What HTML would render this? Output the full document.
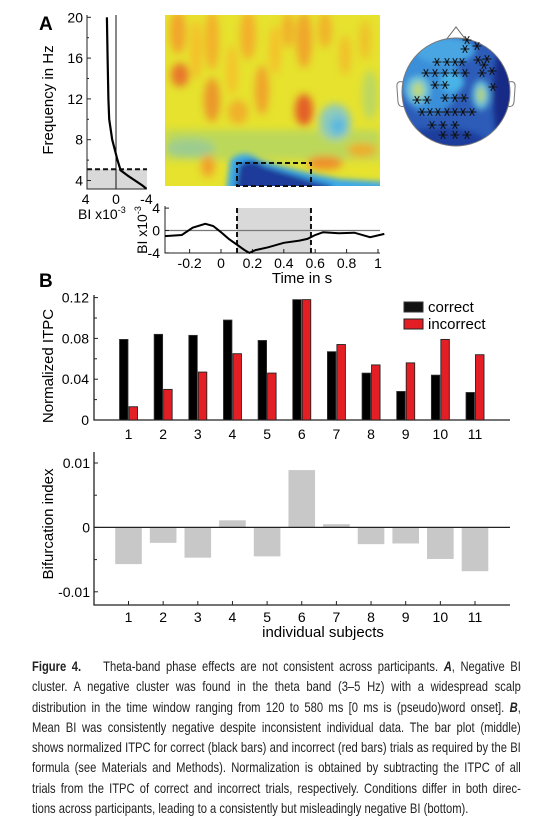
<!DOCTYPE html>
<html><head><meta charset="utf-8">
<style>
html,body{margin:0;padding:0;background:#fff;}
body{width:534px;height:830px;position:relative;overflow:hidden;font-family:"Liberation Sans",sans-serif;}
svg{position:absolute;left:0;top:0;}
#caption{position:absolute;left:32px;top:656px;width:611px;transform:scaleX(0.8);transform-origin:0 0;font-family:"Liberation Sans",sans-serif;font-size:14px;line-height:20.3px;color:#222;}
#caption div{text-align:justify;text-align-last:justify;white-space:nowrap;}
#caption div.last{text-align-last:left;}
</style></head>
<body>
<svg id="fig" width="534" height="650" viewBox="0 0 534 650" font-family="Liberation Sans, sans-serif">
<defs>
  <filter id="blur" x="-20%" y="-20%" width="140%" height="140%"><feGaussianBlur stdDeviation="4"/></filter>
  <filter id="blur2" x="-20%" y="-20%" width="140%" height="140%"><feGaussianBlur stdDeviation="3"/></filter>
  <clipPath id="hmclip"><rect x="165" y="15" width="215" height="171"/></clipPath>
  <clipPath id="headclip"><circle cx="456" cy="92" r="54"/></clipPath>
</defs>

<text x="39" y="30" font-size="19" font-weight="bold">A</text>
<text x="39" y="287" font-size="19" font-weight="bold">B</text>

<g id="freqPlot"></g>

<g clip-path="url(#hmclip)">
  <rect x="165" y="15" width="215" height="171" fill="#e6e22e"/>
  <g filter="url(#blur)">
    <rect x="165" y="130" width="215" height="30" fill="#bcd85a"/>
    <ellipse cx="178" cy="32" rx="8" ry="22" fill="#f2a52a"/>
    <ellipse cx="196" cy="50" rx="6" ry="30" fill="#f4c02a"/>
    <ellipse cx="212" cy="40" rx="7" ry="30" fill="#f3b02a"/>
    <ellipse cx="180" cy="75" rx="9" ry="12" fill="#e8782a"/>
    <ellipse cx="212" cy="100" rx="8" ry="22" fill="#eb962a"/>
    <ellipse cx="232" cy="70" rx="6" ry="25" fill="#f4c42a"/>
    <ellipse cx="248" cy="35" rx="8" ry="25" fill="#f3b02a"/>
    <ellipse cx="262" cy="90" rx="7" ry="25" fill="#f0a42a"/>
    <ellipse cx="275" cy="50" rx="6" ry="25" fill="#f4c22a"/>
    <ellipse cx="288" cy="30" rx="6" ry="18" fill="#f1b02a"/>
    <ellipse cx="304" cy="40" rx="8" ry="28" fill="#f0a62a"/>
    <ellipse cx="304" cy="110" rx="9" ry="16" fill="#e45e28"/>
    <ellipse cx="325" cy="30" rx="7" ry="18" fill="#f0b42a"/>
    <ellipse cx="345" cy="55" rx="6" ry="20" fill="#f1c02a"/>
    <ellipse cx="365" cy="40" rx="6" ry="20" fill="#eec22a"/>
    <ellipse cx="238" cy="112" rx="10" ry="12" fill="#f0b02a"/>
    <ellipse cx="335" cy="122" rx="16" ry="18" fill="#8ccabc"/>
    <ellipse cx="338" cy="126" rx="8" ry="9" fill="#5ab8e0"/>
    <ellipse cx="190" cy="148" rx="25" ry="9" fill="#9ccc90"/>
    <ellipse cx="208" cy="166" rx="7" ry="11" fill="#f2a02a"/>
    <ellipse cx="325" cy="163" rx="18" ry="7" fill="#ee902a"/>
    <ellipse cx="362" cy="150" rx="15" ry="7" fill="#ecae2a"/>
    <ellipse cx="370" cy="95" rx="8" ry="25" fill="#bcd860"/>
  </g>
  <g filter="url(#blur2)">
    <path d="M226,192 L230,160 Q244,148 260,160 Q300,172 340,179 L385,182 L385,194 Z" fill="#3aa8e8"/>
    <path d="M235,192 L239,165 Q252,156 264,166 Q300,177 332,186 L332,194 Z" fill="#1a3a9a"/>
  </g>
</g>
<rect x="237" y="163" width="74" height="23" fill="none" stroke="#111" stroke-width="2" stroke-dasharray="5,3"/>

<g id="timePlot"></g>

<g>
  <path d="M446,40 L456,27 L466,40" fill="#fff" stroke="#666" stroke-width="1"/>
  <path d="M403,82 Q396,80 397,88 L398,102 Q399,108 405,106" fill="#fff" stroke="#777" stroke-width="1"/>
  <path d="M509,82 Q516,80 515,88 L514,102 Q513,108 507,106" fill="#fff" stroke="#777" stroke-width="1"/>
  <circle cx="456" cy="92" r="54" fill="#2c5cb8"/>
  <g clip-path="url(#headclip)">
    <g filter="url(#blur2)">
      <ellipse cx="430" cy="80" rx="30" ry="34" fill="#3a8ed8"/>
      <ellipse cx="445" cy="50" rx="30" ry="14" fill="#48a6e2"/>
      <ellipse cx="452" cy="82" rx="12" ry="10" fill="#4ab2e6"/>
      <ellipse cx="418" cy="90" rx="12" ry="14" fill="#6ec2d8"/>
      <ellipse cx="418" cy="90" rx="6" ry="8" fill="#b8d880"/>
      <ellipse cx="481" cy="95" rx="9" ry="15" fill="#62b8d8"/>
      <ellipse cx="481" cy="95" rx="4" ry="8" fill="#b0d480"/>
      <ellipse cx="505" cy="95" rx="12" ry="55" fill="#182c86"/>
      <ellipse cx="440" cy="142" rx="45" ry="14" fill="#1e3e9c"/>
    </g>
  </g>
  <circle cx="456" cy="92" r="54" fill="none" stroke="#777" stroke-width="1"/>
  <g id="stars" stroke="#111" stroke-width="1"></g>
</g>

<g id="itpcChart"></g>
<g id="biChart"></g>
</svg>

<div id="caption">
<div><b>Figure 4.</b>&nbsp;&nbsp;&nbsp; Theta-band phase effects are not consistent across participants. <b><i>A</i></b>, Negative BI</div>
<div>cluster. A negative cluster was found in the theta band (3–5 Hz) with a widespread scalp</div>
<div>distribution in the time window ranging from 120 to 580 ms [0 ms is (pseudo)word onset]. <b><i>B</i></b>,</div>
<div>Mean BI was consistently negative despite inconsistent individual data. The bar plot (middle)</div>
<div>shows normalized ITPC for correct (black bars) and incorrect (red bars) trials as required by the BI</div>
<div>formula (see Materials and Methods). Normalization is obtained by subtracting the ITPC of all</div>
<div>trials from the ITPC of correct and incorrect trials, respectively. Conditions differ in both direc-</div>
<div class="last">tions across participants, leading to a consistently but misleadingly negative BI (bottom).</div>
</div>

<script>
// ---- data ----
const subjects = ["1","2","3","4","5","6","7","8","9","10","11"];
const itpcCorrect = [0.079,0.084,0.083,0.098,0.078,0.118,0.067,0.046,0.028,0.044,0.027];
const itpcIncorrect = [0.013,0.030,0.047,0.065,0.046,0.118,0.074,0.054,0.056,0.079,0.064];
const itpcTicks = [0,0.04,0.08,0.12];
const itpcTickLabels = ["0","0.04","0.08","0.12"];
const biValues = [-0.0057,-0.0024,-0.0047,0.0011,-0.0045,0.0089,0.0005,-0.0026,-0.0025,-0.0049,-0.0068];
const biTicks = [-0.01,0,0.01];
const biTickLabels = ["-0.01","0","0.01"];
const freqTicks = [4,8,12,16,20];
const freqProfileF = [20,16,12,10,8,6,5,4.5,4,3.5,3.2];
const freqProfileBI = [1.2,1.1,1.0,0.9,0.5,-0.2,-0.6,-1.5,-2.5,-3.5,-4];
const timeTicks = [-0.2,0,0.2,0.4,0.6,0.8,1];
const timeTickLabels = ["-0.2","0","0.2","0.4","0.6","0.8","1"];
const timeT = [-0.357,-0.25,-0.18,-0.1,-0.05,0,0.05,0.1,0.15,0.18,0.22,0.3,0.4,0.5,0.55,0.6,0.65,0.75,0.85,0.95,1.04];
const timeBI = [-1,-0.8,0.5,1.2,0.8,-0.3,-1.5,-2.5,-3.5,-4,-3.5,-3,-2.2,-1.8,-1.5,-0.8,-0.3,-0.5,-0.4,-1.2,-0.6];
const starPts = [[467,40],[465,49],[477,46],[478,60],[487,59],[484,65],[482,73],[492,71],[493,87],[437,62],[447,62],[455,62],[462,62],[426,73],[435,73],[445,73],[455,73],[465,73],[435,85],[445,85],[417,100],[427,100],[445,98],[455,98],[464,98],[422,112],[430,112],[438,112],[447,112],[455,112],[463,112],[472,112],[432,125],[443,125],[455,125],[443,135],[455,135],[467,135]];

const NS = "http://www.w3.org/2000/svg";
function mk(parent, tag, attrs, text){
  const e = document.createElementNS(NS, tag);
  for (const k in attrs) e.setAttribute(k, attrs[k]);
  if (text !== undefined) e.textContent = text;
  parent.appendChild(e);
  return e;
}

(function(){
  const g = document.getElementById('freqPlot');
  const fy = f => 17.3 + (20 - f) * 10.2;
  const bx = b => 116 - b * 7.6;
  let r = mk(g,'rect',{x:87,y:fy(5.1),width:60,height:189-fy(5.1),fill:'#d9d9d9'});
   
  let l = mk(g,'line',{x1:87,y1:fy(5.1),x2:147,y2:fy(5.1),stroke:'#111','stroke-width':2,'stroke-dasharray':'5,3'});
   
  mk(g,'line',{x1:bx(0),y1:15,x2:bx(0),y2:189,stroke:'#111','stroke-width':1});
  let ax = mk(g,'path',{d:'M87,15 L87,189 L147,189',fill:'none',stroke:'#222','stroke-width':1});
   
  freqTicks.forEach(f=>{
    mk(g,'line',{x1:87,y1:fy(f),x2:91,y2:fy(f),stroke:'#222'});
    const t = mk(g,'text',{x:83,y:fy(f)+5,'font-size':14,'text-anchor':'end'},String(f));
     
  });
  [6,10,14,18].forEach(f=>mk(g,'line',{x1:87,y1:fy(f),x2:89,y2:fy(f),stroke:'#222'}));
  [[4,'4'],[0,'0'],[-4,'-4']].forEach(([b,s])=>{
    const t = mk(g,'text',{x:bx(b),y:204,'font-size':14,'text-anchor':'middle'},s);
     
  });
  const bl = mk(g,'text',{x:78,y:219,'font-size':14},'BI x10');
   
  mk(bl,'tspan',{'font-size':9,dy:-6},'-3');
  const yl = mk(g,'text',{x:0,y:0,'font-size':15,'text-anchor':'middle',transform:'translate(53,100) rotate(-90)'},'Frequency in Hz');
   
  const d = freqProfileF.map((f,i)=>(i?'L':'M')+bx(freqProfileBI[i]).toFixed(1)+','+fy(f).toFixed(1)).join(' ');
  const p = mk(g,'path',{d:d,fill:'none',stroke:'#000','stroke-width':2.2});
   
})();

(function(){
  const g = document.getElementById('timePlot');
  const tx = t => 221 + t * 157;
  const by = b => 230.5 - b * 5.6;
  let r = mk(g,'rect',{x:tx(0.102),y:208,width:tx(0.573)-tx(0.102),height:45,fill:'#d9d9d9'});
   
  [0.102,0.573].forEach(t=>mk(g,'line',{x1:tx(t),y1:208,x2:tx(t),y2:253,stroke:'#111','stroke-width':2,'stroke-dasharray':'5,3'}));
  mk(g,'line',{x1:165,y1:by(0),x2:380,y2:by(0),stroke:'#777','stroke-width':1.2});
  let ax = mk(g,'path',{d:'M165,206 L165,253 L380,253',fill:'none',stroke:'#222'});
   
  [[4,'4'],[0,'0'],[-4,'-4']].forEach(([b,s])=>{
    mk(g,'line',{x1:165,y1:by(b),x2:169,y2:by(b),stroke:'#222'});
    const t = mk(g,'text',{x:160,y:by(b)+5,'font-size':14,'text-anchor':'end'},s);
     
  });
  timeTicks.forEach((t,i)=>{
    mk(g,'line',{x1:tx(t),y1:253,x2:tx(t),y2:249,stroke:'#222'});
    const e = mk(g,'text',{x:tx(t),y:268,'font-size':14,'text-anchor':'middle'},timeTickLabels[i]);
     
  });
  const xt = mk(g,'text',{x:302,y:283,'font-size':15,'text-anchor':'middle'},'Time in s');
   
  const yt = mk(g,'text',{x:0,y:0,'font-size':14,'text-anchor':'middle',transform:'translate(147,230) rotate(-90)'},'BI x10');
   
  mk(yt,'tspan',{'font-size':9,dy:-6},'-3');
  const d = timeT.map((t,i)=>(i?'L':'M')+tx(t).toFixed(1)+','+by(timeBI[i]).toFixed(1)).join(' ');
  const p = mk(g,'path',{d:d,fill:'none',stroke:'#000','stroke-width':2});
   
})();

(function(){
  const g = document.getElementById('stars');
  const R = 4.5;
  starPts.forEach(([x,y])=>{
    const d = `M${x-R},${y}L${x+R},${y}M${x-R*0.5},${y-R*0.87}L${x+R*0.5},${y+R*0.87}M${x-R*0.5},${y+R*0.87}L${x+R*0.5},${y-R*0.87}`;
    const s = mk(g,'path',{d:d});
     
  });
})();

(function(){
  const g = document.getElementById('itpcChart');
  const cx = i => 128.5 + i * 34.65;
  const vy = v => 420 - v * 1020;
  let ax = mk(g,'path',{d:'M94,295 L94,420 L510,420',fill:'none',stroke:'#222','stroke-width':1.3});
   
  [0.02,0.06,0.1].forEach(v=>mk(g,'line',{x1:94,y1:vy(v),x2:97,y2:vy(v),stroke:'#222'}));
  itpcTicks.forEach((v,i)=>{
    mk(g,'line',{x1:94,y1:vy(v),x2:98,y2:vy(v),stroke:'#222'});
    const t = mk(g,'text',{x:89,y:vy(v)+5,'font-size':14,'text-anchor':'end'},itpcTickLabels[i]);
     
  });
  subjects.forEach((s,i)=>{
    const b = mk(g,'rect',{x:cx(i)-9,y:vy(itpcCorrect[i]),width:8.5,height:420-vy(itpcCorrect[i]),fill:'#000',stroke:'#333','stroke-width':0.8});
     
    const r = mk(g,'rect',{x:cx(i)+0.5,y:vy(itpcIncorrect[i]),width:8.5,height:420-vy(itpcIncorrect[i]),fill:'#e31e24',stroke:'#222','stroke-width':0.9});
     
    const t = mk(g,'text',{x:cx(i),y:439,'font-size':14,'text-anchor':'middle'},s);
     
  });
  const yl = mk(g,'text',{x:0,y:0,'font-size':15,'text-anchor':'middle',transform:'translate(53,366) rotate(-90)'},'Normalized ITPC');
   
  const l1 = mk(g,'rect',{x:404,y:302,width:19,height:10,fill:'#111',stroke:'#333'});
   
  const t1 = mk(g,'text',{x:428,y:312,'font-size':15},'correct');
   
  const l2 = mk(g,'rect',{x:404,y:319,width:19,height:10,fill:'#e31e24',stroke:'#222'});
   
  const t2 = mk(g,'text',{x:428,y:329,'font-size':15},'incorrect');
   
})();

(function(){
  const g = document.getElementById('biChart');
  const cx = i => 128.5 + i * 34.65;
  const vy = v => 527.4 - v * 6440;
  subjects.forEach((s,i)=>{
    const v = biValues[i];
    const y0 = Math.min(vy(v), vy(0)), h = Math.abs(vy(v)-vy(0));
    const b = mk(g,'rect',{x:cx(i)-13.3,y:y0,width:26.6,height:h,fill:'#c8c8c8'});
     
    mk(g,'line',{x1:cx(i),y1:605,x2:cx(i),y2:601,stroke:'#222'});
    const t = mk(g,'text',{x:cx(i),y:622,'font-size':14,'text-anchor':'middle'},s);
     
  });
  let z = mk(g,'line',{x1:94,y1:vy(0),x2:510,y2:vy(0),stroke:'#222','stroke-width':1.3});
   
  let ax = mk(g,'path',{d:'M94,452 L94,605 L510,605',fill:'none',stroke:'#222','stroke-width':1.3});
   
  [-0.005,0.005].forEach(v=>mk(g,'line',{x1:94,y1:vy(v),x2:97,y2:vy(v),stroke:'#222'}));
  biTicks.forEach((v,i)=>{
    mk(g,'line',{x1:94,y1:vy(v),x2:98,y2:vy(v),stroke:'#222'});
    const t = mk(g,'text',{x:90,y:vy(v)+5,'font-size':14,'text-anchor':'end'},biTickLabels[i]);
     
  });
  const yl = mk(g,'text',{x:0,y:0,'font-size':15,'text-anchor':'middle',transform:'translate(53,524) rotate(-90)'},'Bifurcation index');
   
  const xl = mk(g,'text',{x:323,y:637,'font-size':15,'text-anchor':'middle'},'individual subjects');
   
})();
</script>
</body></html>
